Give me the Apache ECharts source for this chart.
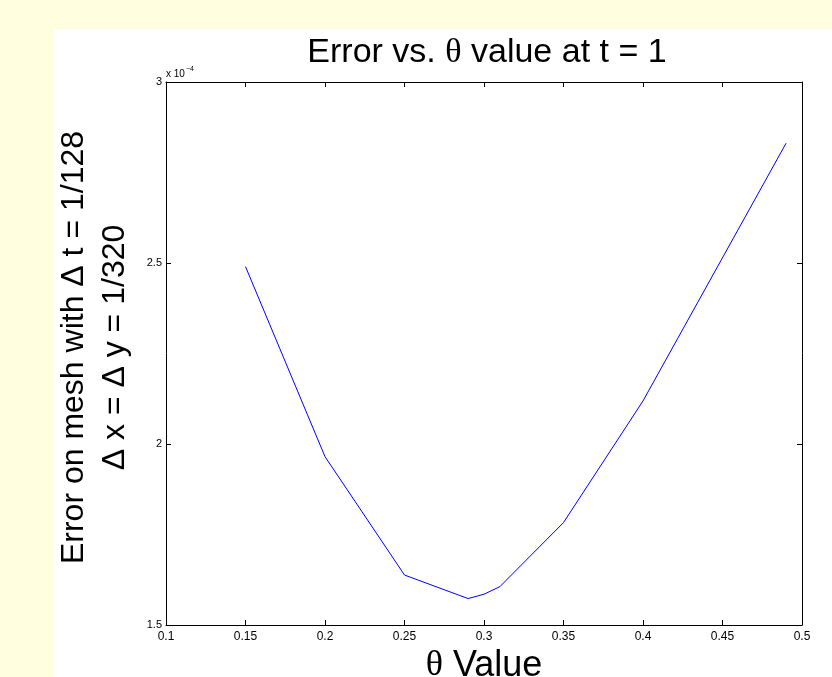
<!DOCTYPE html>
<html>
<head>
<meta charset="utf-8">
<script src="https://cdn.jsdelivr.net/npm/echarts@6/dist/echarts.min.js"></script>
<style>
html,body{margin:0;padding:0;background:#FFFFE0;}
#chart{width:832px;height:677px;}
</style>
</head>
<body>
<div id="chart"></div>
<script>
// theta values (x) and error values in units of 1e-4 (y)
const thetaValues = [0.15, 0.2, 0.25, 0.29, 0.3, 0.31, 0.35, 0.4, 0.49];
const errorE4 = [2.49, 1.965, 1.638, 1.573, 1.585, 1.606, 1.783, 2.119, 2.831];
const xTickLabels = ['0.1','0.15','0.2','0.25','0.3','0.35','0.4','0.45','0.5'];
const yTickLabels = ['1.5','2','2.5','3'];

const SANS = '"Liberation Sans", Arial, Helvetica, sans-serif';
const SERIF = '"Liberation Serif", "Times New Roman", serif';

const chart = echarts.init(document.getElementById('chart'), null, {renderer: 'canvas'});

const L = 166, T = 82, W = 636, H = 543;

function xLabel(v) {
  const idx = Math.round((v - 0.1) / 0.05);
  return xTickLabels[idx] !== undefined ? xTickLabels[idx] : '';
}
function yLabel(v) {
  const idx = Math.round((v - 1.5) / 0.5);
  return yTickLabels[idx] !== undefined ? yTickLabels[idx] : '';
}

const axisLine = {show: true, lineStyle: {color: '#000', width: 1}};
const axisTick = {show: true, inside: true, length: 5, lineStyle: {color: '#000', width: 1}};

chart.setOption({
  backgroundColor: '#FFFFE0',
  animation: false,
  graphic: [
    {type: 'rect', z: -10, shape: {x: 54, y: 29, width: 778, height: 648}, style: {fill: '#FFFFFF'}},
    {type: 'text', left: L, top: T - 16, z: 10,
      style: {
        text: '{a|x 10}{b|−4}',
        rich: {
          a: {fontFamily: SANS, fontSize: 10, fill: '#000', verticalAlign: 'bottom'},
          b: {fontFamily: SANS, fontSize: 7, fill: '#000', verticalAlign: 'top', padding: [0,0,6,1]}
        }
      }
    }
  ],
  title: {
    text: '{t|Error vs. }{s|θ}{t| value at t = 1}',
    left: 482,
    textAlign: 'center',
    top: 31,
    textStyle: {
      fontWeight: 'normal',
      rich: {
        t: {fontFamily: SANS, fontSize: 34, color: '#000', fontWeight: 'normal'},
        s: {fontFamily: SERIF, fontSize: 34, color: '#000', fontWeight: 'normal'}
      }
    }
  },
  grid: {left: L, top: T, width: W, height: H, containLabel: false, outerBoundsMode: 'none'},
  xAxis: [
    {
      type: 'value', min: 0.1, max: 0.5, interval: 0.05, position: 'bottom',
      axisLine: axisLine, axisTick: axisTick, splitLine: {show: false},
      axisLabel: {show: true, formatter: xLabel, fontFamily: SANS, fontSize: 12, color: '#000', margin: 6, showMinLabel: true, showMaxLabel: true},
      name: '{s|θ}{t| Value}', nameLocation: 'middle', nameGap: 13,
      nameTextStyle: {
        rich: {
          t: {fontFamily: SANS, fontSize: 36, color: '#000'},
          s: {fontFamily: SERIF, fontSize: 36, color: '#000'}
        }
      }
    },
    {
      type: 'value', min: 0.1, max: 0.5, interval: 0.05, position: 'top',
      axisLine: axisLine, axisTick: axisTick, splitLine: {show: false},
      axisLabel: {show: false}
    }
  ],
  yAxis: [
    {
      type: 'value', min: 1.5, max: 3, interval: 0.5, position: 'left',
      axisLine: axisLine, axisTick: axisTick, splitLine: {show: false},
      axisLabel: {show: true, formatter: yLabel, fontFamily: SANS, fontSize: 11, color: '#000', margin: 4, showMinLabel: true, showMaxLabel: true},
      name: 'Error on mesh with Δ t = 1/128\nΔ x = Δ y = 1/320',
      nameLocation: 'middle', nameRotate: 90, nameGap: 16,
      nameTextStyle: {fontFamily: SANS, fontSize: 32, color: '#000', lineHeight: 41, align: 'center', padding: [0, 0, 0, 12]}
    },
    {
      type: 'value', min: 1.5, max: 3, interval: 0.5, position: 'right',
      axisLine: axisLine, axisTick: axisTick, splitLine: {show: false},
      axisLabel: {show: false}
    }
  ],
  series: [{
    type: 'line',
    xAxisIndex: 0, yAxisIndex: 0,
    data: thetaValues.map((t, i) => [t, errorE4[i]]),
    showSymbol: false, symbol: 'none',
    lineStyle: {color: '#0000FF', width: 1},
    itemStyle: {color: '#0000FF'}
  }]
});
</script>
</body>
</html>
